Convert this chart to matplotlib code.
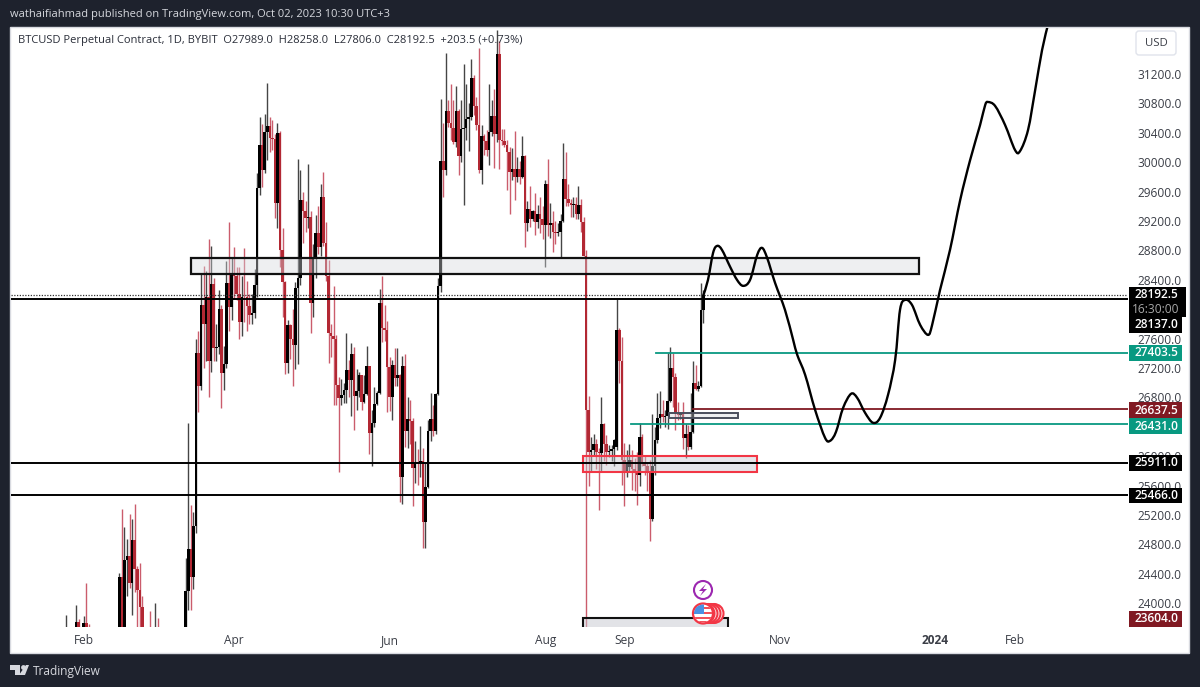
import numpy as np
import matplotlib
matplotlib.use("Agg")
import matplotlib.pyplot as plt
from matplotlib.path import Path
from matplotlib.patches import Rectangle, Circle, FancyBboxPatch, Polygon, PathPatch

FIRST_DAY = -7   # day numbers count from 1 Feb 2023
opens = [
23100,23600,23050,23030,23100,23740,22830,23130,23730,23490,
23430,23330,22940,22760,23250,22960,21790,21630,21860,21780,
21800,22200,24350,23520,24580,24640,24280,24860,24460,24180,
23950,23180,23160,23550,23480,23140,23640,23470,22350,22420,
22430,22400,22200,21700,20370,20200,20600,22150,24170,24740,
24350,25050,27400,26950,28050,27800,28170,27300,28340,27470,
27490,28000,27130,27260,28350,28030,28470,28450,28200,27820,
28170,28160,28040,27920,27950,28330,29650,30230,29890,30415,
30490,30325,30310,29440,30400,28800,28375,27270,27786,27590,
27510,28290,28420,29486,29330,29240,29260,28080,28680,29040,
28850,29530,28900,28450,27673,27630,27600,26970,26790,26830,
26900,27170,27030,27390,26820,26880,27100,26740,26850,27220,
26320,26450,26710,26860,28080,27740,27720,27210,26810,27240,
27070,27100,25720,27230,26340,26500,26480,25840,25920,25900,
25930,25110,25580,26340,26510,26340,26850,28320,30010,29900,
30690,30540,30470,30270,30690,30080,30450,30470,30590,30620,
31150,30770,30510,29900,30350,30290,30170,30410,30630,30380,
31470,30300,30290,30230,30140,29860,29910,29800,29910,29800,
30080,29170,29360,29230,29340,29180,29300,29230,29150,29710,
29150,29170,29050,29040,29050,29200,29770,29500,29440,29420,
29430,29300,29420,29180,28720,26630,26050,26080,26170,26060,
26040,26440,26160,26050,26070,26100,26130,27720,27290,25950,
25800,25850,25950,25830,25790,25750,26260,25920,25860,25780,
25150,25860,26220,26520,26580,26530,26550,26750,27200,27080,
26570,26560,26590,26250,26300,26130,26330,27000,26910,26950,
27989]
highs = [
23840,23650,23200,23600,23970,23790,23300,23830,24280,23710,
23580,23430,23150,23350,23450,23000,21900,21900,22090,22300,
22300,24410,25280,25040,24870,25210,25150,25350,24500,24550,
24100,23220,23500,23890,23600,24000,23800,23480,22500,22650,
22600,22600,22250,21800,20400,20800,22200,24620,26450,25330,
25240,27600,27700,28488,28590,28520,28950,28860,28420,27800,
28260,28060,27500,28660,29190,28715,28840,28580,28580,28450,
28830,28380,28200,28200,28540,29850,30610,30520,30650,31073,
30620,30580,30390,30530,30430,29110,28380,27850,27800,28000,
28370,30050,29890,29600,29470,29980,29340,28880,29280,29400,
29710,29870,29190,28670,27800,28310,27650,27080,27050,27000,
27680,27310,27540,27490,27190,27150,27100,27100,27500,27230,
26630,26940,26880,28280,28450,28050,27840,27350,27310,27470,
27470,27120,27365,27390,26810,26770,26520,26200,26100,26410,
26110,25905,26490,26860,26700,26860,28420,30855,30530,31480,
30840,31060,30850,31040,30720,30850,31335,31060,30800,31410,
31180,30890,31550,30510,30390,30440,31060,30840,31000,31800,
31650,30450,30450,30300,30210,30190,30430,30070,30020,30350,
30100,29470,29680,29350,29580,29420,29530,29400,29760,30050,
29440,29340,29200,29170,29300,30256,30140,29710,29500,29520,
29520,29680,29500,29250,28800,26820,26260,26300,26240,26110,
26810,26445,26290,26150,26150,26230,28135,27750,27620,26180,
26090,26170,26085,25970,26050,26450,26300,26000,25900,25950,
26570,26400,26865,26890,26770,26630,27400,27480,27400,27130,
26730,26600,26740,26440,26430,26860,27290,27240,27020,28350,
28258]
lows = [
23000,22950,22950,23000,23000,22600,22720,22800,23400,23200,
23250,22780,22630,22750,22680,21700,21450,21600,21650,21400,
21550,22050,23500,23350,24100,24200,23840,24150,23600,23650,
23100,22800,23080,23100,23000,23040,23200,22300,22200,22180,
22300,21950,21700,21600,19600,19800,20450,21900,23900,23910,
24190,24950,26600,26900,27200,27300,26800,27150,27300,27300,
27390,26650,26900,27200,27700,27850,28150,28130,27600,27630,
27830,27700,27800,27800,27880,28170,29560,29660,29850,30030,
30140,30170,29240,29100,28580,27900,27120,27130,27320,26950,
27190,27250,28330,28900,29050,29100,27680,27900,28420,28750,
28720,28860,28380,27265,27350,26700,26700,25790,26700,26720,
26720,26810,26540,26360,26630,26810,26630,26720,26830,26030,
25860,26400,26690,26840,27550,27560,26600,26610,26490,26950,
26950,25370,25350,26130,26110,26170,25320,25630,25610,25720,
24750,24750,25560,26200,26270,26300,26830,28240,29530,29830,
30480,30300,30250,30200,29820,30000,29420,30300,30150,30570,
30640,30440,29850,29710,30100,30080,29960,30350,29920,30280,
29910,30230,30210,29620,29300,29760,29490,29730,29700,29780,
28840,29070,29120,29200,29010,29100,29040,28950,28580,28990,
28970,28780,28880,28990,28715,29180,29400,29400,29260,29260,
29230,29230,29050,28720,23500,25590,25790,26000,25820,25270,
25800,25930,25880,25990,25930,25860,26080,26990,25610,25315,
25720,25790,25540,25530,25340,25590,25860,25750,25530,24850,
25120,25740,26180,26380,26470,26400,26370,26740,26670,26360,
26490,26510,26100,25970,26080,26100,26310,26900,26880,26940,
27806]
closes = [
23600,23050,23030,23100,23740,22830,23130,23730,23490,23430,
23330,22940,22760,23250,22960,21790,21630,21860,21780,21800,
22200,24350,23520,24580,24640,24280,24860,24460,24180,23950,
23180,23160,23450,23480,23140,23640,23470,22350,22420,22430,
22400,22200,21700,20370,20200,20600,22150,24170,24740,24350,
25050,27400,26950,28050,27800,28170,27300,28340,27470,27490,
28000,27130,27260,28350,28030,28470,28450,28200,27820,28170,
28160,28040,27920,27950,28330,29650,30230,29890,30415,30490,
30325,30310,29440,30400,28800,28375,27270,27786,27590,27510,
28290,28420,29486,29330,29240,29260,28080,28680,29040,28850,
29530,28900,28450,27673,27630,27600,26970,26790,26830,26900,
27170,27030,27390,26820,26880,27100,26740,26850,27220,26320,
26450,26710,26860,28080,27740,27720,27210,26810,27240,27070,
27100,25720,27230,26340,26500,26480,25840,25920,25900,25930,
25110,25580,26340,26510,26340,26850,28320,30010,29900,30690,
30540,30470,30270,30690,30080,30450,30470,30590,30620,31150,
30770,30510,29900,30350,30290,30170,30410,30630,30380,31470,
30300,30290,30230,30140,29860,29910,29800,29910,29800,30080,
29170,29360,29230,29340,29180,29300,29230,29150,29710,29150,
29170,29050,29040,29050,29200,29770,29500,29440,29420,29430,
29300,29420,29180,28720,26630,26050,26080,26170,26060,26040,
26440,26160,26050,26070,26100,26220,27720,27290,25950,25800,
25900,25950,25830,25790,25750,26260,25920,25860,25780,25150,
25860,26220,26520,26580,26530,26550,26750,27200,27080,26570,
26560,26590,26250,26300,26130,26330,27000,26910,26950,27989,
28192.5]

path_days = [242.9,244.8,246.8,248.4,250.3,253.5,256.2,258.6,261.3,264.1,266,268,271.1,275,278.2,279.8,
             282.9,286.8,290.7,292.7,295,297.8,300.9,303.3,306.4,309.5,312.3,315.4,318.2,320.1,322.1,
             324.8,328,331.1,332.7,335.8,339.7,343.7,347.6,351.5,353.5,354.6,357.4,361.3,365.2,367.2,
             370.3,373.1,375.8,378.2]
path_prices = [28181,28398,28766,28861,28806,28575,28398,28317,28398,28738,28834,28698,28358,27990,27582,27378,
               27106,26630,26250,26209,26331,26658,26848,26794,26590,26454,26522,26834,27310,27990,28126,
               28058,27786,27650,27786,28262,28806,29486,30030,30506,30778,30819,30765,30506,30166,30153,
               30438,30982,31526,31880]

month_days = [0, 59, 120, 181, 212, 273, 334, 365]
month_labels = ["Feb", "Apr", "Jun", "Aug", "Sep", "Nov", "2024", "Feb"]
price_ticks = [24000, 24400, 24800, 25200, 25600, 26000, 26800, 27200, 27600, 28400, 28800,
               29200, 29600, 30000, 30400, 30800, 31200]
black_levels = [28137.0, 25911.0, 25466.0]
last_price = 28192.5

DARK = "#1e222d"
UP = "#000000"
DOWN = "#b22833"
TEAL = "#089981"
MAROON = "#801922"
plt.rcParams["font.family"] = ["Open Sans", "DejaVu Sans"]

W, H = 1200, 687
fig = plt.figure(figsize=(W / 100, H / 100), dpi=100, facecolor=DARK)
fig.add_artist(Rectangle((10 / W, 1 - 653 / H), 1179 / W, 626 / H, transform=fig.transFigure,
                         facecolor="white", edgecolor="#d8dae0", lw=1, zorder=-5))

ax = fig.add_axes([11 / W, 1 - 627 / H, 1117 / W, 599 / H], zorder=1)
ax.patch.set_visible(False)
for s in ax.spines.values():
    s.set_visible(False)
ax.set_xlim(-28.5, 409.5)
ax.set_ylim(23675, 31826)

days = np.arange(len(opens)) + FIRST_DAY
o, h, l, c = map(np.array, (opens, highs, lows, closes))
up = c >= o
ax.vlines(days[up], l[up], h[up], color="#454545", lw=1.0, zorder=2)
ax.vlines(days[~up], l[~up], h[~up], color="#cb5c6c", lw=1.0, zorder=2)
ax.bar(days[up], (c - o)[up], bottom=o[up], width=1.0, color=UP, lw=0, zorder=3)
ax.bar(days[~up], (o - c)[~up], bottom=c[~up], width=1.0, color=DOWN, lw=0, zorder=3)

# zones drawn on the chart
box_fill = (0.84, 0.85, 0.87, 0.40)
ax.add_patch(Rectangle((42, 28480), 285.6, 218, fc=box_fill, ec="#111111", lw=1.6, zorder=5))
ax.add_patch(Rectangle((195.8, 25787), 68.2, 218, fc=(0.78, 0.79, 0.82, 0.45), ec="#f23645", lw=1.5, zorder=5))
ax.add_patch(Rectangle((229.5, 26520), 27.1, 70, fc=box_fill, ec="#4a4e5c", lw=1.4, zorder=5))
ax.add_patch(Rectangle((195.8, 23000), 56.9, 800, fc=(0.78, 0.79, 0.82, 0.5), ec="#111111", lw=1.5, zorder=5))

ax.axhline(last_price, color="#333333", lw=0.9, ls=(0, (1, 1.2)), zorder=6)
for v in black_levels:
    ax.axhline(v, color="#000000", lw=1.4, zorder=6)
ax.plot([224.4, 409.5], [27403.5, 27403.5], color=TEAL, lw=1.3, zorder=6)
ax.plot([214.6, 409.5], [26431, 26431], color=TEAL, lw=1.3, zorder=6)
ax.plot([239, 409.5], [26637.5, 26637.5], color=MAROON, lw=1.3, zorder=6)

# hand-drawn forecast: a smooth curve through the read points
pts = np.column_stack([path_days, path_prices])
ext = np.vstack([pts[0], pts, pts[-1]])
verts, codes = [tuple(pts[0])], [Path.MOVETO]
for i in range(1, len(ext) - 2):
    c1 = ext[i] + (ext[i + 1] - ext[i - 1]) / 6
    c2 = ext[i + 1] - (ext[i + 2] - ext[i]) / 6
    verts += [tuple(c1), tuple(c2), tuple(ext[i + 1])]
    codes += [Path.CURVE4] * 3
ax.add_patch(PathPatch(Path(verts, codes), fc="none", ec="#000000", lw=1.7, zorder=7,
                       capstyle="round", joinstyle="round"))

ax.yaxis.tick_right()
ax.set_yticks(price_ticks)
ax.set_yticklabels([f"{v:.1f}" for v in price_ticks], fontsize=8.6, color="#3b3e47")
ax.set_xticks(month_days)
ax.set_xticklabels(month_labels, fontsize=8.6, color="#3b3e47")
ax.get_xticklabels()[6].set_fontweight("bold")
for t in ax.get_xticklabels():
    t.set_verticalalignment("baseline")
ax.tick_params(axis="both", length=0)
ax.tick_params(axis="y", pad=6.5)
ax.tick_params(axis="x", pad=12.5)

# chrome in pixel space
ch = fig.add_axes([0, 0, 1, 1], zorder=2)
ch.set_xlim(0, W)
ch.set_ylim(H, 0)
ch.axis("off")

ch.text(10, 14.5, "wathaifiahmad published on TradingView.com, Oct 02, 2023 10:30 UTC+3",
        color="#d6d8de", fontsize=8.05, va="center", ha="left")
ch.text(18, 41, "BTCUSD Perpetual Contract, 1D, BYBIT  O27989.0  H28258.0  L27806.0  C28192.5  +203.5 (+0.73%)",
        color="#2a2e39", fontsize=7.97, va="center", ha="left")
ch.add_patch(FancyBboxPatch((1136, 31), 40, 24, boxstyle="round,pad=0,rounding_size=3",
                            fc="white", ec="#e0e3eb", lw=1))
ch.text(1156, 43, "USD", color="#3b3e47", fontsize=8.2, ha="center", va="center")

def badge(y, text, color, height=15.5, x0=1129, x1=1182, tcolor="white", weight="semibold"):
    ch.add_patch(Rectangle((x0, y - height / 2), x1 - x0, height, fc=color, ec="none", zorder=5))
    ch.text(1156, y, text, color=tcolor, fontsize=8.6, ha="center", va="center", fontweight=weight, zorder=6)

ch.add_patch(Rectangle((1129, 287), 57, 23, fc="black", ec="none", zorder=4))
badge(295, "28192.5", "black")
badge(309.5, "16:30:00", "black", x1=1186, tcolor="#a8a8a8", weight="normal")
badge(325, "28137.0", "black")
badge(353, "27403.5", TEAL)
badge(410, "26637.5", MAROON)
badge(426, "26431.0", TEAL)
badge(463, "25911.0", "black")
badge(495.5, "25466.0", "black")
badge(619, "23604.0", MAROON)

# event markers
ch.add_patch(Circle((703, 590), 9, fc="white", ec="#9c27b0", lw=1.5, zorder=6))
ch.add_patch(Polygon([(706, 584), (699, 591), (703, 591), (700, 596), (707, 589), (703, 589)],
                     fc="#9c27b0", ec="none", zorder=7))
for cx in (714, 711, 708, 705):
    ch.add_patch(Circle((cx, 613.5), 9.5, fc="#ffffff", ec="#f23645", lw=1.5, zorder=6))
ch.add_patch(Circle((703, 613.5), 10, fc="#ffffff", ec="#f23645", lw=1.6, zorder=7))
flag = Circle((703, 613.5), 9, transform=ch.transData, fc="none", ec="none")
ch.add_patch(flag)
for yy in (607, 612, 617, 621):
    r = ch.add_patch(Rectangle((693, yy), 20, 2.4, fc="#f0505a", ec="none", zorder=8))
    r.set_clip_path(flag)
r = ch.add_patch(Rectangle((693, 604), 10.5, 10, fc="#4a90e2", ec="none", zorder=9))
r.set_clip_path(flag)

# footer logo
ch.add_patch(Polygon([(10, 665), (20, 665), (20, 675), (15, 675), (15, 670), (10, 670)], fc="#d6d8de", ec="none"))
ch.add_patch(Circle((23.5, 667.5), 2.4, fc="#d6d8de", ec="none"))
ch.add_patch(Polygon([(26, 665), (29, 665), (25, 675), (19, 675)], fc="#d6d8de", ec="none"))
ch.text(33, 671, "TradingView", color="#d6d8de", fontsize=8.6, ha="left", va="center")

fig.savefig("out.png", dpi=100, facecolor=DARK)
